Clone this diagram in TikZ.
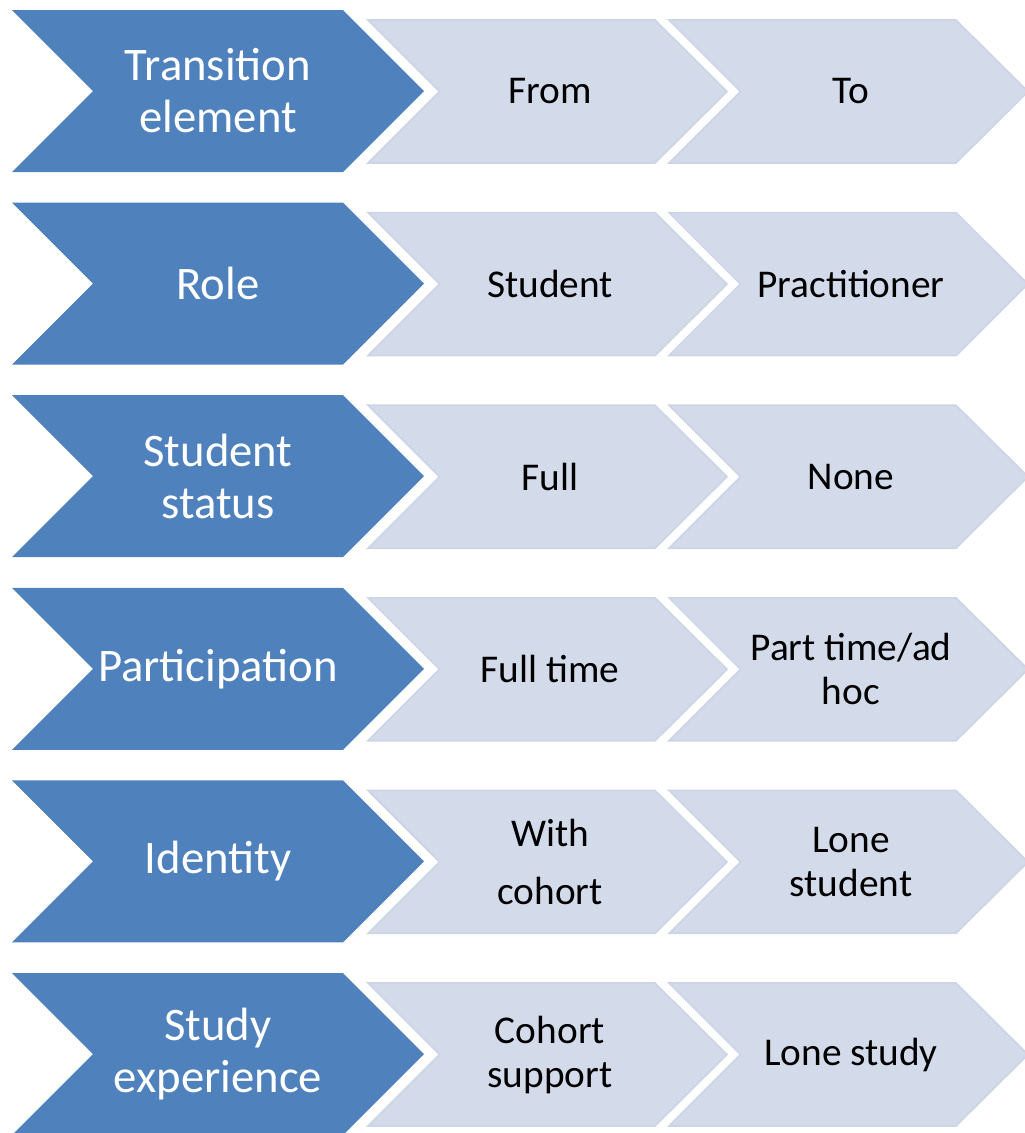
\documentclass[tikz,border=0pt]{standalone}
\usepackage{fontspec}
\setmainfont{Carlito}
\usepackage{tikz}
\usetikzlibrary{positioning}
\definecolor{elemFill}{RGB}{79, 129, 189}
\definecolor{valueFill}{RGB}{211, 218, 234}
\definecolor{valueEdge}{RGB}{204, 212, 229}
\tikzset{
    elem_shape/.style={
        fill=elemFill,
        draw=none
    },
    value_shape/.style={
        fill=valueFill,
        draw=valueEdge,
        line width=1.2pt,
        line join=miter
    },
    elem_text/.style={
        text=white,
        align=center,
        inner sep=0pt,
        font=\fontsize{35pt}{39pt}\selectfont
    },
    value_text/.style={
        text=black,
        align=center,
        inner sep=0pt,
        font=\fontsize{29.5pt}{33pt}\selectfont
    }
}
\begin{document}
\begin{tikzpicture}[x=0.75pt, y=-0.75pt]
    \clip (0,0) rectangle (1025,1133);
    \fill[white] (0,0) rectangle (1025,1133);

    \foreach \elem/\from/\to [count=\i from 0] in {
        {Transition\\element}/From/To,
        Role/Student/Practitioner,
        {Student\\status}/Full/None,
        Participation/Full time/{Part time/ad\\hoc},
        Identity/{With\\[11pt]cohort}/{Lone\\student},
        {Study\\experience}/{Cohort\\support}/Lone study}
    {
        \begin{scope}[shift={(0,192.6*\i)}]
            % element chevron
            \fill[elem_shape] (12,10) -- (343,10) -- (424,91) -- (343,172)
                -- (12,172) -- (93,91) -- cycle;
            % from / to chevrons
            \filldraw[value_shape] (368,20) -- (655,20) -- (727,91.5) -- (655,163)
                -- (368,163) -- (439.5,91.5) -- cycle;
            \filldraw[value_shape] (669,20) -- (956,20) -- (1028,91.5) -- (956,163)
                -- (669,163) -- (740.5,91.5) -- cycle;

            \node[elem_text] (elem\i) at (218,91) {\elem};
            \node[value_text] (from\i) at (550,91.5) {\from};
            \node[value_text] (to\i) at (851,91.5) {\to};
        \end{scope}
    }
\end{tikzpicture}
\end{document}
